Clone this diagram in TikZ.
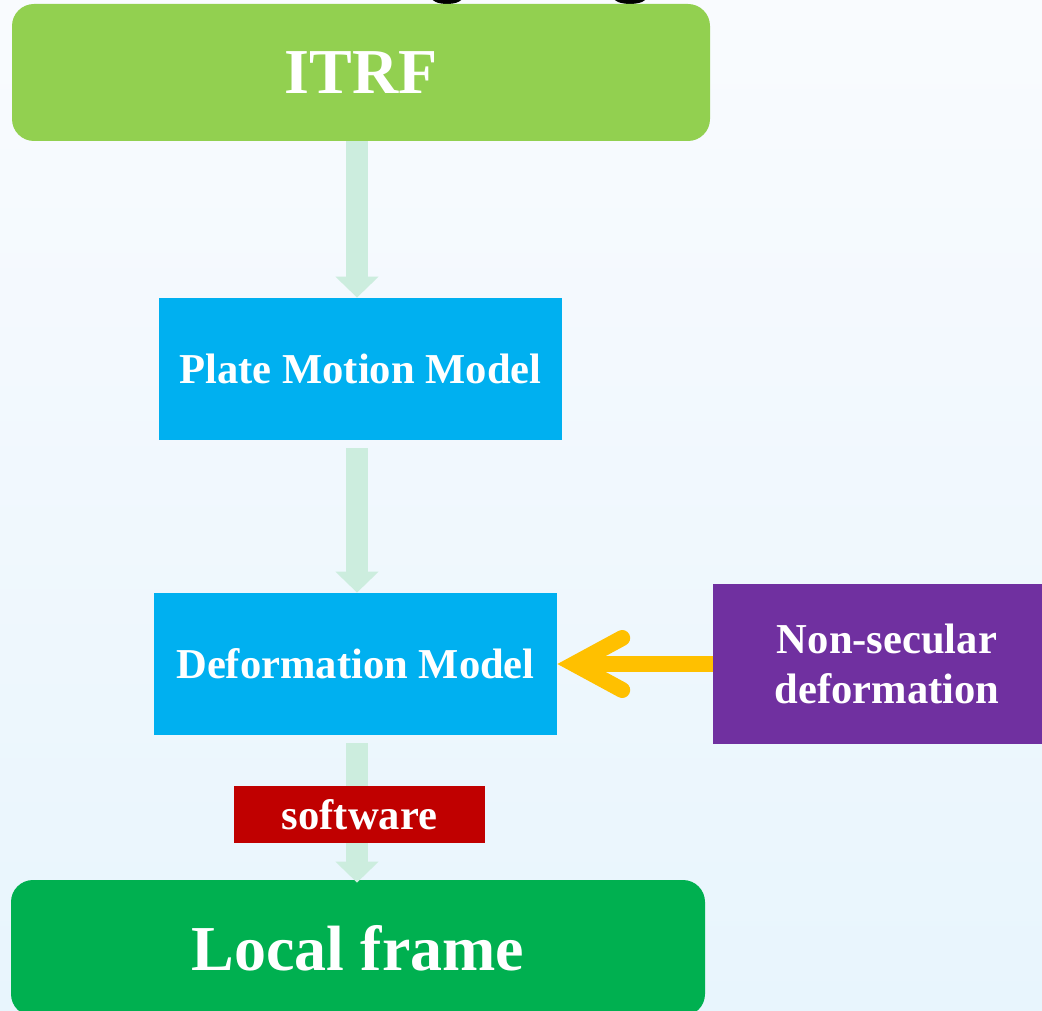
\documentclass[tikz,border=0pt]{standalone}
\usepackage{fontspec}
\setmainfont{Liberation Serif}
\usetikzlibrary{arrows.meta}

\definecolor{itrfgreen}{HTML}{92D050}
\definecolor{modelblue}{HTML}{00B0F0}
\definecolor{localgreen}{HTML}{00B050}
\definecolor{nsviolet}{HTML}{7030A0}
\definecolor{swred}{HTML}{C00000}
\definecolor{mint}{HTML}{CCEDDE}
\definecolor{amber}{HTML}{FFC000}
\definecolor{bgtop}{HTML}{F9FBFE}
\definecolor{bgbottom}{HTML}{E8F5FD}

\begin{document}
\begin{tikzpicture}[x=0.5pt, y=-0.5pt,
    box/.style={inner sep=0pt, align=center, text=white,
        font=\bfseries\fontsize{21.3}{25}\selectfont},
    bigbox/.style={box, rounded corners=11pt,
        font=\bfseries\fontsize{32}{38}\selectfont},
    flow/.style={mint, line width=11pt, -{Triangle[length=10.5pt,width=21pt]}}]
            \useasboundingbox (0,0) rectangle (1042,1010);
            \shade[top color=bgtop, bottom color=bgbottom] (0,0) rectangle (1042,1010);
            \clip (0,0) rectangle (1042,1010);

            % pieces of the cut-off title
            \fill[black] (447,-3) ellipse [x radius=8pt, y radius=3.5pt];
            \fill[black] (630,-3) ellipse [x radius=8.5pt, y radius=3.5pt];

            \node[bigbox, fill=itrfgreen, minimum width=349pt, minimum height=68.5pt] (itrf) at (361,72.5) {ITRF};
            \node[box, fill=modelblue, minimum width=201.5pt, minimum height=71pt] (plate) at (360.5,369) {Plate Motion Model};
            \node[box, fill=modelblue, minimum width=201.5pt, minimum height=71pt] (deform) at (355.5,664) {Deformation Model};
            \node[box, fill=nsviolet, minimum width=174pt, minimum height=80pt] (nonsec) at (887,664) {Non-secular\\deformation};
            \node[bigbox, fill=localgreen, minimum width=347pt, minimum height=68pt] (local) at (358,948) {Local frame};

            \draw[flow] ([xshift=-2pt]itrf.south) -- ([xshift=-2pt]itrf.south |- plate.north);
            \draw[flow, shorten <=4pt] ([xshift=-1.75pt]plate.south) -- ([xshift=-1.75pt]plate.south |- deform.north);
            \draw[flow, shorten <=4pt, shorten >=-1.5pt] ([xshift=0.75pt]deform.south) -- ([xshift=0.75pt]deform.south |- local.north);

            \draw[amber, line width=8pt, -{Straight Barb[length=24pt,width=26pt,line cap=round]}] (nonsec.west) -- (deform.east);

            \node[box, fill=swred, minimum width=125.5pt, minimum height=28.5pt] (soft) at (359.5,814.5) {software};
        \end{tikzpicture}
\end{document}
